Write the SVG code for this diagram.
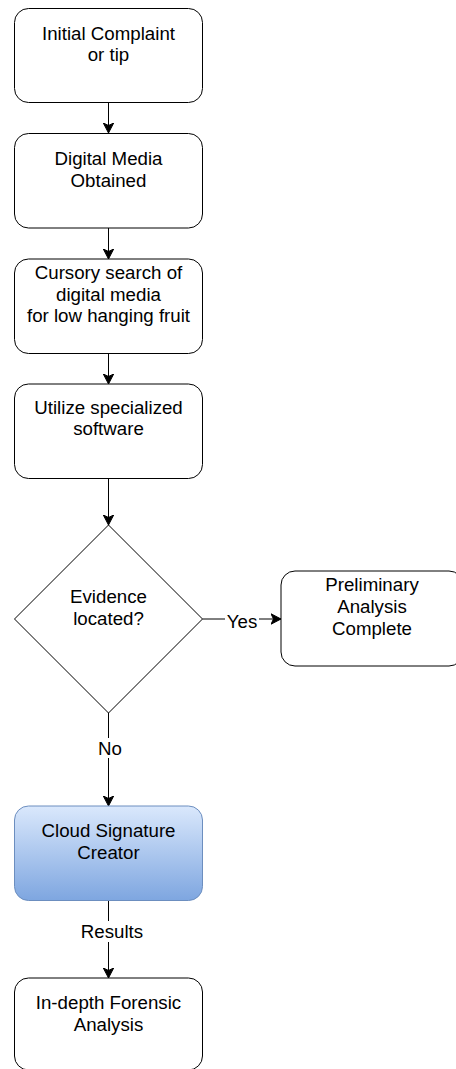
<svg xmlns="http://www.w3.org/2000/svg" width="456" height="1069" viewBox="0 0 456 1069">
<style>
.box{fill:#fff;stroke:#000;stroke-width:1}
.t{font-family:"Liberation Sans",Arial,sans-serif;font-size:18.7px;fill:#000;text-anchor:middle}
.c{fill:none;stroke:#000;stroke-width:1}
.lbl{fill:#fff}
</style>
<defs>
<marker id="ah" markerWidth="12" markerHeight="12" refX="10.5" refY="6" orient="auto" markerUnits="userSpaceOnUse">
<path d="M0.5,0.8 L10.5,6 L0.5,11.2 L3,6 Z" fill="#000" stroke="#000" stroke-width="1"/>
</marker>
<linearGradient id="blue" x1="0" y1="0" x2="0" y2="1">
<stop offset="0" stop-color="#dae8fc"/>
<stop offset="1" stop-color="#7ea6e0"/>
</linearGradient>
</defs>
<g id="connectors">
<line class="c" x1="108.5" y1="102.5" x2="108.5" y2="133" marker-end="url(#ah)"/>
<line class="c" x1="108.5" y1="228" x2="108.5" y2="259" marker-end="url(#ah)"/>
<line class="c" x1="108.5" y1="353.5" x2="108.5" y2="384" marker-end="url(#ah)"/>
<line class="c" x1="108.5" y1="478.5" x2="108.5" y2="525" marker-end="url(#ah)"/>
<line class="c" x1="202.5" y1="619" x2="281" y2="619" marker-end="url(#ah)"/>
<rect class="lbl" x="225" y="610" width="34" height="20"/>
<text class="t" x="242" y="628">Yes</text>
<line class="c" x1="108.5" y1="713" x2="108.5" y2="806" marker-end="url(#ah)"/>
<rect class="lbl" x="96" y="738" width="28" height="20"/>
<text class="t" x="110" y="755">No</text>
<line class="c" x1="108.5" y1="900.5" x2="108.5" y2="978" marker-end="url(#ah)"/>
<rect class="lbl" x="80" y="921" width="64" height="21"/>
<text class="t" x="112" y="938">Results</text>
</g>
<g id="n1">
<rect class="box" x="14.5" y="8.5" width="188" height="94" rx="14"/>
<text class="t" x="108.5" y="39.5">Initial Complaint</text>
<text class="t" x="108.5" y="61">or tip</text>
</g>
<g id="n2">
<rect class="box" x="14.5" y="133.5" width="188" height="94.5" rx="14"/>
<text class="t" x="108.5" y="165">Digital Media</text>
<text class="t" x="108.5" y="187">Obtained</text>
</g>
<g id="n3">
<rect class="box" x="14.5" y="259" width="188" height="94.5" rx="14"/>
<text class="t" x="108.5" y="278.5">Cursory search of</text>
<text class="t" x="108.5" y="300.5">digital media</text>
<text class="t" x="108.5" y="322">for low hanging fruit</text>
</g>
<g id="n4">
<rect class="box" x="14.5" y="384" width="188" height="94.5" rx="14"/>
<text class="t" x="108.5" y="413.5">Utilize specialized</text>
<text class="t" x="108.5" y="435">software</text>
</g>
<g id="decision">
<polygon class="box" points="108.5,525 202.5,619 108.5,713 14.5,619"/>
<text class="t" x="108.5" y="603">Evidence</text>
<text class="t" x="108.5" y="624.5">located?</text>
</g>
<g id="prelim">
<rect class="box" x="281" y="571" width="182" height="95" rx="14"/>
<text class="t" x="372" y="591">Preliminary</text>
<text class="t" x="372" y="613">Analysis</text>
<text class="t" x="372" y="635">Complete</text>
</g>
<g id="cloud">
<rect x="14.5" y="806" width="188" height="94.5" rx="14" fill="url(#blue)" stroke="#6c8ebf" stroke-width="1"/>
<text class="t" x="108.5" y="837">Cloud Signature</text>
<text class="t" x="108.5" y="858.5">Creator</text>
</g>
<g id="forensic">
<rect class="box" x="14.5" y="978" width="188" height="92" rx="14"/>
<text class="t" x="108.5" y="1009">In-depth Forensic</text>
<text class="t" x="108.5" y="1030.5">Analysis</text>
</g>
</svg>
